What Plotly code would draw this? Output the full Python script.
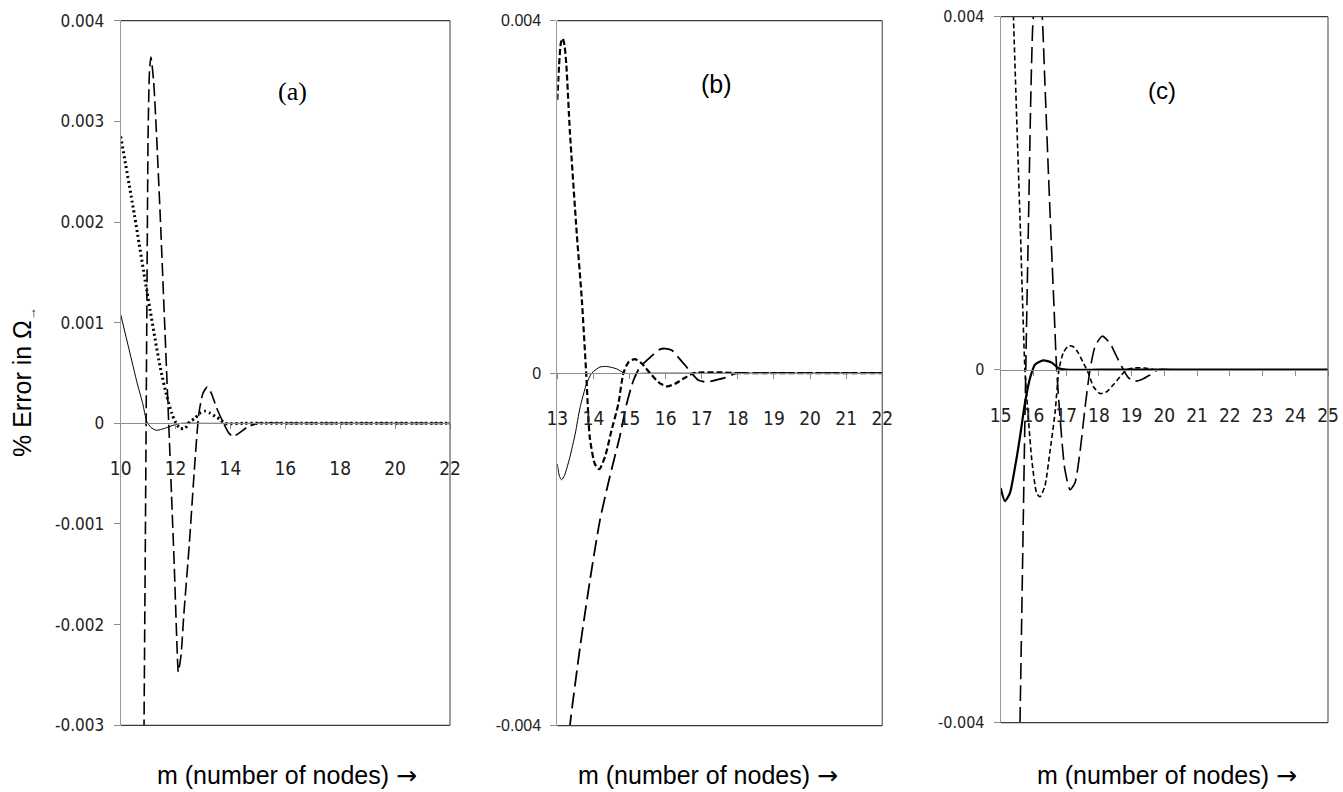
import plotly.graph_objects as go

# ---------------- data ----------------
# Panel (a)
a_solid_x = [10.0, 10.3, 10.6, 10.8, 10.95, 11.1, 11.3, 11.6, 11.9, 12.2, 13, 14, 15, 16, 17, 18, 19, 20, 21, 22]
a_solid_y = [0.00108, 0.00074, 0.0004, 0.0002, 0.00002, -0.00004, -0.00007, -0.00005, -0.00002, 0.0,
             0, 0, 0, 0, 0, 0, 0, 0, 0, 0]
a_dot_x = [10.0, 10.5, 10.95, 11.43, 11.68, 11.86, 11.98, 12.16, 12.34, 12.53, 12.71, 12.89, 13.07,
           13.26, 13.44, 13.62, 13.8, 14.5, 15, 16, 17, 18, 19, 20, 21, 22]
a_dot_y = [0.00285, 0.00207, 0.00132, 0.00057, 0.00027, 0.0001, 0.00002, -0.00005, -0.00005, 0.00002,
           0.00005, 0.0001, 0.00012, 0.0001, 0.00007, 0.00004, 0.0, 0, 0, 0, 0, 0, 0, 0, 0, 0]
a_long_x = [10.82, 10.85, 10.9, 10.95, 11.0, 11.05, 11.1, 11.2, 11.3, 11.45, 11.6, 11.75, 11.85, 11.95,
            12.05, 12.1, 12.2, 12.3, 12.5, 12.7, 12.85, 13.0, 13.15, 13.3, 13.5, 13.75, 13.95, 14.1,
            14.3, 14.6, 15.0, 16, 17, 18, 19, 20, 21, 22]
a_long_y = [-0.0045, -0.003, -0.0011, 0.001, 0.0029, 0.0035, 0.00364, 0.0034, 0.0029, 0.002, 0.001, 0.0,
            -0.0007, -0.0014, -0.0022, -0.00247, -0.0023, -0.0019, -0.0012, -0.0004, 0.0001, 0.0003,
            0.00036, 0.0003, 0.00015, 0.0, -0.0001, -0.00013, -0.0001, -0.00004, 0, 0, 0, 0, 0, 0, 0, 0]

# Panel (b)
b_solid_x = [13.0, 13.06, 13.12, 13.2, 13.35, 13.5, 13.63, 13.81, 13.95, 14.18, 14.37, 14.64, 14.87,
             15.5, 16, 17, 18, 19, 20, 21, 22]
b_solid_y = [-0.00103, -0.00117, -0.00121, -0.00116, -0.00095, -0.00068, -0.00039, -0.00012, 0.0,
             0.00007, 0.000076, 0.00005, 0.0, 0, 0, 0, 0, 0, 0, 0, 0]
b_short_x = [13.0, 13.05, 13.1, 13.15, 13.2, 13.25, 13.35, 13.54, 13.68, 13.8, 13.9, 14.04, 14.16, 14.32,
             14.5, 14.69, 14.83, 14.97, 15.15, 15.34, 15.57, 15.8, 16.03, 16.26, 16.5, 16.77, 17.05,
             17.5, 18, 19, 20, 21, 22]
b_short_y = [0.0031, 0.0035, 0.00375, 0.0038, 0.00372, 0.0035, 0.00273, 0.00158, 0.00083, 0.0, -0.00073,
             -0.00103, -0.00109, -0.00095, -0.00065, -0.00035, 0.0, 0.000125, 0.00016, 0.00011, 0.0,
             -0.0001, -0.00015, -0.00012, -0.00006, 0.0, 0.00001, 0.00001, 0, 0, 0, 0, 0]
b_long_x = [13.3, 13.35, 13.63, 13.9, 14.18, 14.45, 14.73, 14.92, 15.11, 15.29, 15.57, 15.84, 15.98,
            16.17, 16.35, 16.54, 16.72, 16.91, 17.14, 17.37, 17.65, 17.97, 18.5, 19, 20, 21, 22]
b_long_y = [-0.0043, -0.004, -0.00311, -0.00236, -0.00167, -0.00118, -0.00072, -0.00035, -0.00008,
            0.00007, 0.00018, 0.00027, 0.00028, 0.00026, 0.00018, 0.00009, 0.0, -0.00008, -0.0001,
            -0.00008, -0.00005, 0.0, 0, 0, 0, 0, 0]

# Panel (c)
c_solid_x = [15.0, 15.13, 15.28, 15.44, 15.59, 15.74, 15.9, 16.05, 16.3, 16.56, 16.76, 17.0, 18, 19, 20,
             21, 22, 23, 24, 25]
c_solid_y = [-0.00134, -0.00149, -0.0014, -0.0011, -0.00076, -0.00038, -0.00009, 0.00006, 0.000105,
             0.00008, 0.00002, 0, 0, 0, 0, 0, 0, 0, 0, 0]
c_short_x = [15.3, 15.39, 15.49, 15.6, 15.74, 15.85, 15.95, 16.1, 16.2, 16.35, 16.5, 16.66, 16.78, 16.91,
             17.07, 17.22, 17.37, 17.52, 17.68, 17.83, 18.03, 18.24, 18.44, 18.65, 18.85, 19.1, 19.4,
             19.72, 20.0, 20.5]
c_short_y = [0.0051, 0.004, 0.00283, 0.0016, 0.0, -0.00057, -0.00102, -0.0014, -0.00144, -0.00132,
             -0.00094, -0.00049, 0.0, 0.00019, 0.00027, 0.00026, 0.00019, 0.00008, -0.00004, -0.00019,
             -0.00027, -0.00025, -0.00017, -0.00008, 0.0, 0.00002, 0.00002, 0.0, 0, 0]
c_long_x = [15.55, 15.59, 15.66, 15.72, 15.78, 15.85, 15.92, 15.98, 16.05, 16.15, 16.25, 16.35, 16.45,
            16.55, 16.63, 16.71, 16.86, 16.96, 17.12, 17.27, 17.42, 17.58, 17.73, 17.88, 18.1, 18.34,
            18.54, 18.75, 18.9, 19.1, 19.31, 19.56, 19.81, 20.2]
c_long_y = [-0.005, -0.004, -0.0024, -0.001, 0.0003, 0.0017, 0.0031, 0.0039, 0.0042, 0.0043, 0.0041,
            0.00325, 0.0023, 0.0014, 0.0007, 0.0, -0.00076, -0.00113, -0.00136, -0.00128, -0.00094,
            -0.00042, 0.0, 0.00026, 0.00038, 0.0003, 0.00015, 0.0, -0.00009, -0.00013, -0.00011,
            -0.00006, 0.0, 0.0]

# Axes / tick labels
a_xticks = [10, 12, 14, 16, 18, 20, 22]
a_yticks = [-0.003, -0.002, -0.001, 0, 0.001, 0.002, 0.003, 0.004]
a_ylabels = ["-0.003", "-0.002", "-0.001", "0", "0.001", "0.002", "0.003", "0.004"]
b_xticks = [13, 14, 15, 16, 17, 18, 19, 20, 21, 22]
c_xticks = [15, 16, 17, 18, 19, 20, 21, 22, 23, 24, 25]
bc_yticks = [-0.004, 0, 0.004]
bc_ylabels = ["-0.004", "0", "0.004"]
panel_labels = ["(a)", "(b)", "(c)"]
x_title = "m (number of nodes) <span style='font-family:DejaVu Sans'>\u2192</span>"
y_title = "% Error in \u03a9<sub><span style='font-size:13px'>\u2192</span></sub>"

# ---------------- layout helpers ----------------
W, H = 1343, 792


def px_x(p):
    return p / W


def py_y(p):
    return 1 - p / H


NARROW = "DejaVu Sans Condensed, Liberation Sans Narrow, Arial Narrow, Liberation Sans, sans-serif"
SANS = "Liberation Sans, Arial, sans-serif"
SERIF = "Liberation Serif, Times New Roman, serif"

panels = [
    dict(xd=(120.7, 450.0), yd=(725.3, 20.7), xr=(10, 22), yr=(-0.003, 0.004),
         xt=a_xticks, yt=a_yticks, yl=a_ylabels, yfont=NARROW, yfs=17),
    dict(xd=(557.3, 882.3), yd=(725.7, 20.7), xr=(13, 22), yr=(-0.004, 0.004),
         xt=b_xticks, yt=bc_yticks, yl=bc_ylabels, yfont=SANS, yfs=16),
    dict(xd=(1000.7, 1328.0), yd=(722.7, 16.7), xr=(15, 25), yr=(-0.004, 0.004),
         xt=c_xticks, yt=bc_yticks, yl=bc_ylabels, yfont=NARROW, yfs=16),
]

fig = go.Figure()

series = [
    # (panel index, x, y, width, dash)
    (0, a_solid_x, a_solid_y, 1.0, "solid"),
    (0, a_dot_x, a_dot_y, 3.0, "2px,3px"),
    (0, a_long_x, a_long_y, 1.6, "13px,5px"),
    (1, b_solid_x, b_solid_y, 1.0, "solid"),
    (1, b_short_x, b_short_y, 2.2, "6px,3px"),
    (1, b_long_x, b_long_y, 1.8, "16px,6px"),
    (2, c_solid_x, c_solid_y, 2.2, "solid"),
    (2, c_short_x, c_short_y, 1.6, "5px,3px"),
    (2, c_long_x, c_long_y, 1.6, "16px,6px"),
]

for pi, xs, ys, w, d in series:
    sfx = "" if pi == 0 else str(pi + 1)
    fig.add_trace(go.Scatter(
        x=xs, y=ys, mode="lines", xaxis="x" + sfx, yaxis="y" + sfx,
        line=dict(color="black", width=w, dash=d, shape="spline", smoothing=0.6),
        showlegend=False, hoverinfo="skip"))

layout = dict(
    template="none",
    width=W, height=H, autosize=False,
    margin=dict(l=0, r=0, t=0, b=0, pad=0),
    paper_bgcolor="white", plot_bgcolor="white",
    showlegend=False,
)

shapes = []
annotations = []
for i, p in enumerate(panels):
    sfx = "" if i == 0 else str(i + 1)
    xd = [px_x(p["xd"][0]), px_x(p["xd"][1])]
    yd = [py_y(p["yd"][0]), py_y(p["yd"][1])]
    y0, y1 = p["yr"]
    zero_pos = yd[0] + (0 - y0) / (y1 - y0) * (yd[1] - yd[0])
    layout["xaxis" + sfx] = dict(
        domain=xd, range=list(p["xr"]), anchor="free", position=zero_pos, automargin=False,
        showgrid=False, zeroline=False, showline=True, linecolor="#8c8c8c", linewidth=1,
        ticks="outside", ticklen=5, tickcolor="#8c8c8c", tickvals=p["xt"],
        ticktext=[str(v) for v in p["xt"]], ticklabelstandoff=23,
        tickfont=dict(family=NARROW, size=19, color="#222222"),
    )
    layout["yaxis" + sfx] = dict(
        domain=yd, range=list(p["yr"]), anchor="x" + sfx, automargin=False,
        showgrid=False, zeroline=False, showline=True, linecolor="#9a9a9a", linewidth=1,
        ticks="outside", ticklen=6, tickcolor="#8c8c8c", tickvals=p["yt"], ticktext=p["yl"],
        ticklabelstandoff=6,
        tickfont=dict(family=p["yfont"], size=p["yfs"], color="#222222"),
    )
    xref = "x" + sfx + " domain"
    yref = "y" + sfx + " domain"
    for (xa, ya, xb, yb, col) in [(0, 1, 1, 1, "#3a3a3a"), (1, 0, 1, 1, "#6a6a6a"), (0, 0, 1, 0, "#3a3a3a")]:
        shapes.append(dict(type="line", xref=xref, yref=yref, x0=xa, y0=ya, x1=xb, y1=yb,
                           line=dict(color=col, width=1.3)))


def note(text, cx, cy, family, size, angle=0):
    return dict(text=text, xref="paper", yref="paper", x=px_x(cx), y=py_y(cy),
                xanchor="center", yanchor="middle", textangle=angle, showarrow=False,
                font=dict(family=family, size=size, color="black"))


# x axis titles
for cx in (287, 708, 1167):
    annotations.append(note(x_title, cx, 775, SANS, 25))

# panel labels
annotations.append(note(panel_labels[0], 292, 92, SERIF, 26))
annotations.append(note(panel_labels[1], 716, 84, SANS, 25))
annotations.append(note(panel_labels[2], 1162, 90, SANS, 24))
# y axis title
annotations.append(note(y_title, 24, 382, SANS, 25, angle=-90))

layout["shapes"] = shapes
layout["annotations"] = annotations
fig.update_layout(**layout)

fig.write_html("out.html",
               config={"displayModeBar": False},
               post_script="document.body.style.margin='0px';document.body.style.overflow='hidden';")
